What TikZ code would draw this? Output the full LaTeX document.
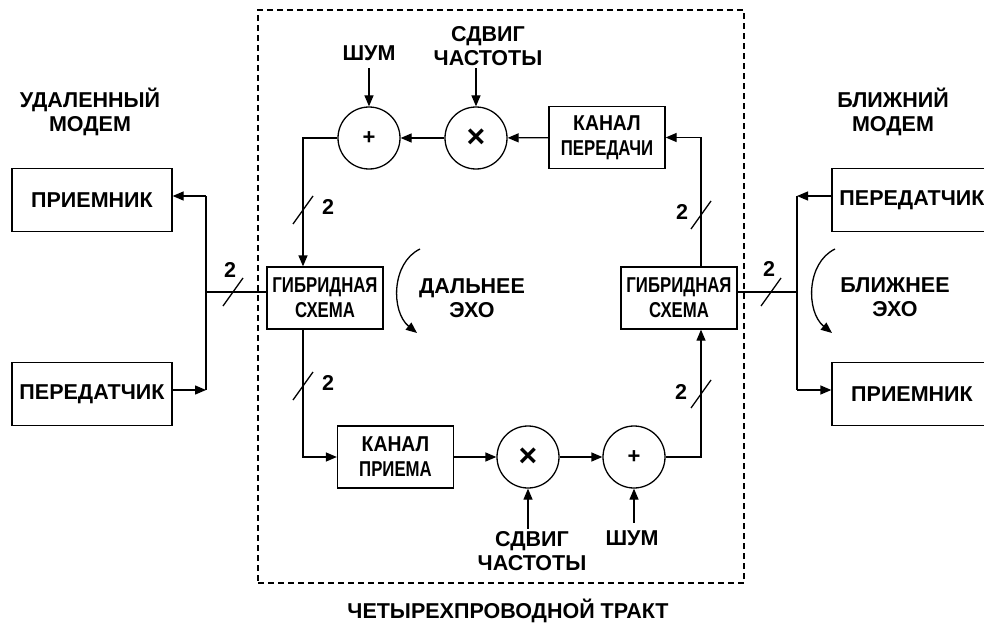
\documentclass[tikz,border=0pt]{standalone}
\usepackage{fontspec}
\setmainfont{Liberation Sans}
\newfontfamily\narrowfont[FakeStretch=0.78]{Liberation Sans}
\newfontfamily\semifont[FakeStretch=0.9]{Liberation Sans}
\usepackage{tikz}
\usetikzlibrary{arrows.meta, positioning, calc}

% short slash across a two-wire line
\newcommand{\busmark}[1]{\draw ($(#1)+(-10,14)$) -- ($(#1)+(10,-14)$);}

\begin{document}
\begin{tikzpicture}[x=1pt, y=-1pt, line width=1.3pt,
  block/.style={rectangle, draw, minimum width=160pt, minimum height=63pt, align=center, font=\bfseries\fontsize{21.5}{25}\selectfont},
  hybrid/.style={rectangle, draw, minimum width=116pt, minimum height=62pt, inner sep=1pt, align=center, font=\narrowfont\bfseries\fontsize{21.5}{25}\selectfont},
  chan/.style={rectangle, draw, minimum width=116pt, minimum height=62pt, inner sep=1pt, align=center, font=\semifont\bfseries\fontsize{21.5}{25}\selectfont},
  op/.style={circle, draw, minimum size=62pt, inner sep=0pt, font=\bfseries},
  lbl/.style={align=center, inner sep=2pt, font=\bfseries\fontsize{21.5}{24}\selectfont},
  wire/.style={-{Triangle[length=11pt,width=9pt]}},
  frame/.style={draw, dash pattern=on 6pt off 4pt, line width=1.4pt}
]
  \useasboundingbox (0,0) rectangle (984,623);

  % four-wire path frame
  \node[frame, minimum width=486pt, minimum height=573pt, inner sep=0pt] (tract) at (501,296.5) {};
  \node[lbl] (tractlbl) at (508,611) {ЧЕТЫРЕХПРОВОДНОЙ ТРАКТ};

  % far modem
  \node[lbl] (farlbl) at (90,112) {УДАЛЕННЫЙ\\МОДЕМ};
  \node[block] (rxL) at (92,200) {ПРИЕМНИК};
  \node[block] (txL) at (92,394) {ПЕРЕДАТЧИК};

  % near modem
  \node[lbl] (nearlbl) at (893,112) {БЛИЖНИЙ\\МОДЕМ};
  \node[block] (txR) at (912,200) {ПЕРЕДАТЧИК};
  \node[block] (rxR) at (912,394) {ПРИЕМНИК};

  % hybrids
  \node[hybrid] (hybL) at (325,298) {ГИБРИДНАЯ\\СХЕМА};
  \node[hybrid] (hybR) at (679,298) {ГИБРИДНАЯ\\СХЕМА};

  % transmit channel (top)
  \node[chan] (chT) at (607,137.5) {КАНАЛ\\{\narrowfont ПЕРЕДАЧИ}};
  \node[op] (mulT) at (476,138) {\fontsize{32}{32}\selectfont\raisebox{-3pt}{×}};
  \node[op] (sumT) at (369,138) {\fontsize{22}{22}\selectfont +};
  \node[lbl] (nzT) at (369,53) {ШУМ};
  \node[lbl] (sftT) at (488,46) {СДВИГ\\ЧАСТОТЫ};

  % receive channel (bottom)
  \node[chan] (chB) at (395.5,457) {КАНАЛ\\{\narrowfont ПРИЕМА}};
  \node[op] (mulB) at (528,457) {\fontsize{32}{32}\selectfont\raisebox{-3pt}{×}};
  \node[op] (sumB) at (634,457) {\fontsize{22}{22}\selectfont +};
  \node[lbl] (sftB) at (532,551) {СДВИГ\\ЧАСТОТЫ};
  \node[lbl] (nzB) at (632,538) {ШУМ};

  % echo labels
  \node[lbl] (echoF) at (472,298) {ДАЛЬНЕЕ\\ЭХО};
  \node[lbl] (echoN) at (895,297) {БЛИЖНЕЕ\\ЭХО};

  % junctions of the two-wire lines
  \coordinate (jL) at (206,292);
  \coordinate (jLt) at (206,196);
  \coordinate (jLb) at (206,390);
  \coordinate (jR) at (797,292);
  \coordinate (jRt) at (797,196);
  \coordinate (jRb) at (797,390);

  % far side two-wire line
  \draw (jLt) -- (jLb);
  \draw (jL) -- (hybL.west |- jL);
  \draw[wire] (jLt) -- (rxL.east |- jLt);
  \draw[wire] (txL.east |- jLb) -- (jLb);

  % near side two-wire line
  \draw (jRt) -- (jRb);
  \draw (hybR.east |- jR) -- (jR);
  \draw[wire] (txR.west |- jRt) -- (jRt);
  \draw[wire] (jRb) -- (rxR.west |- jRb);

  % top loop
  \draw[wire] ([xshift=22pt]hybR.north) |- (chT.east);
  \draw[wire] (chT) -- (mulT);
  \draw[wire] (mulT) -- (sumT);
  \draw[wire] (sumT.west) -| ([xshift=-22pt]hybL.north);
  \draw[wire] ([yshift=-5pt]nzT.south) -- (sumT);
  \draw[wire] (sftT.south -| mulT) -- (mulT);

  % bottom loop
  \draw[wire] ([xshift=-22pt]hybL.south) |- (chB.west);
  \draw[wire] (chB) -- (mulB);
  \draw[wire] (mulB) -- (sumB);
  \draw[wire] (sumB.east) -| ([xshift=22pt]hybR.south);
  \draw[wire] (sftB.north -| mulB) -- (mulB);
  \draw[wire] ([yshift=5pt]nzB.north -| sumB) -- (sumB);

  % echo arrows
  \draw[wire] (420,249) .. controls (391,263) and (391,312) .. (417,333);
  \draw[wire] (835,249) .. controls (806,263) and (806,312) .. (832,333);

  % two-wire marks
  \busmark{233,292}
  \busmark{771,292}
  \busmark{303,210}
  \busmark{701,215}
  \busmark{303,386}
  \busmark{701,394}
  \node[lbl] (nL) at (230,270) {2};
  \node[lbl] (nR) at (769,269) {2};
  \node[lbl] (nTL) at (328,207) {2};
  \node[lbl] (nTR) at (682,212) {2};
  \node[lbl] (nBL) at (328,383) {2};
  \node[lbl] (nBR) at (681,392) {2};
\end{tikzpicture}
\end{document}
